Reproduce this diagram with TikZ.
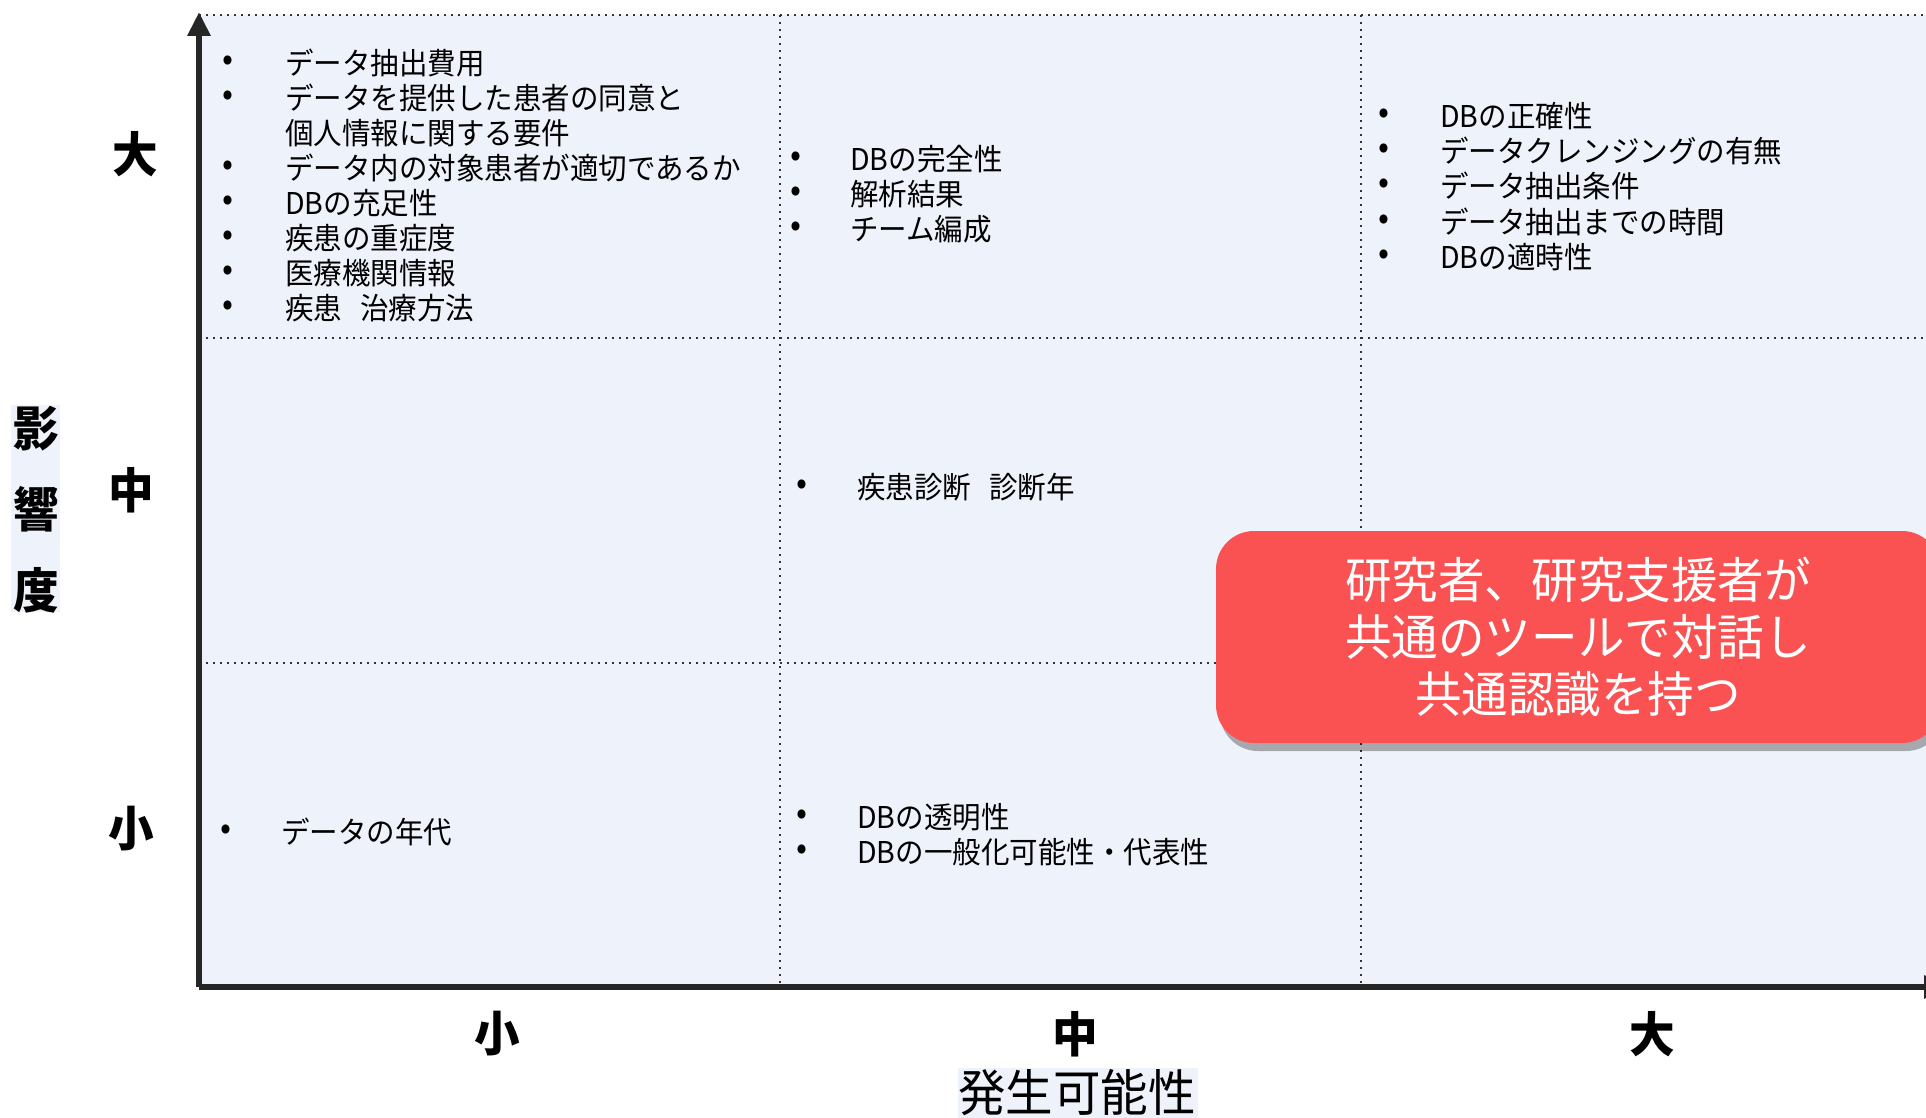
\documentclass[tikz,border=0pt]{standalone}
\usepackage{fontspec}
\setmainfont{Noto Sans CJK JP}[FakeStretch=0.95]
\usetikzlibrary{arrows.meta,shadows}
\definecolor{bgc}{HTML}{EEF2FA}
\definecolor{boxred}{HTML}{FA5252}
\definecolor{axisc}{HTML}{262626}
\definecolor{gridc}{HTML}{333333}
\begin{document}
\begin{tikzpicture}[x=1pt,y=-1pt,
  txt/.style={anchor=west,inner sep=0pt,font=\fontsize{30}{30}\selectfont},
  bul/.style={anchor=center,inner sep=0pt,font=\fontsize{34}{34}\selectfont},
  gridline/.style={draw=gridc,line width=2pt,dash pattern=on 2pt off 5pt},
  axisline/.style={draw=axisc,line width=6pt,-{Triangle[length=24pt,width=22pt]}},
  axlab/.style={inner sep=0pt,font=\fontsize{48}{48}\selectfont\bfseries},
  titlelab/.style={inner sep=0pt,font=\fontsize{50}{50}\selectfont},
  msgbox/.style={fill=boxred,rounded corners=38pt,text=white,align=center,
    inner sep=0pt,font=\fontsize{49}{57}\selectfont,
    drop shadow={shadow xshift=4pt,shadow yshift=-8pt,opacity=0.3,fill=black}}]
\clip (0,0) rectangle (1926,1118);
\fill[white] (0,0) rectangle (1926,1118);
% plot background
\fill[bgc] (199,15) rectangle (1926,987);
% grid
\coordinate (h0a) at (199,15);  \coordinate (h0b) at (1926,15);
\coordinate (h1a) at (199,338); \coordinate (h1b) at (1926,338);
\coordinate (h2a) at (199,663); \coordinate (h2b) at (1926,663);
\coordinate (v1a) at (780,15);  \coordinate (v1b) at (780,985);
\coordinate (v2a) at (1361,15); \coordinate (v2b) at (1361,985);
\draw[gridline] (h0a) -- (h0b);
\draw[gridline] (h1a) -- (h1b);
\draw[gridline] (h2a) -- (h2b);
\draw[gridline] (v1a) -- (v1b);
\draw[gridline] (v2a) -- (v2b);
% axes
\coordinate (O) at (199,987);
\coordinate (ytop) at (199,12);
\coordinate (xend) at (1948,987);
\draw[axisline] (O) -- (ytop);
\draw[axisline] (O) -- (xend);
% y-axis labels
\node[axlab] (yL) at (135,154) {大};
\node[axlab] (yM) at (131,490) {中};
\node[axlab] (yS) at (131,829) {小};
\fill[bgc] (11,405) rectangle (60,612);
\node[axlab] (yt1) at (36,429) {影};
\node[axlab] (yt2) at (36,509) {響};
\node[axlab] (yt3) at (36,590) {度};
% x-axis labels
\node[axlab] (xS) at (497,1034) {小};
\node[axlab] (xM) at (1075,1034) {中};
\node[axlab] (xL) at (1652,1034) {大};
\fill[bgc] (958,1068) rectangle (1198,1118);
\node[titlelab] (xt) at (1077,1093) {発生可能性};
% cell: small likelihood, large impact
\node[bul] (b11) at (228,63) {•};  \node[txt] (t11) at (285,63) {データ抽出費用};
\node[bul] (b12) at (228,98) {•};  \node[txt] (t12) at (285,98) {データを提供した患者の同意と};
                                   \node[txt] (t13) at (285,133) {個人情報に関する要件};
\node[bul] (b14) at (228,168) {•}; \node[txt] (t14) at (285,168) {データ内の対象患者が適切であるか};
\node[bul] (b15) at (228,203) {•}; \node[txt] (t15) at (285,203) {DBの充足性};
\node[bul] (b16) at (228,238) {•}; \node[txt] (t16) at (285,238) {疾患の重症度};
\node[bul] (b17) at (228,273) {•}; \node[txt] (t17) at (285,273) {医療機関情報};
\node[bul] (b18) at (228,308) {•}; \node[txt] (t18) at (285,308) {疾患\hspace{0.6em}治療方法};
% cell: medium likelihood, large impact
\node[bul] (b21) at (796,159) {•}; \node[txt] (t21) at (850,159) {DBの完全性};
\node[bul] (b22) at (796,194) {•}; \node[txt] (t22) at (850,194) {解析結果};
\node[bul] (b23) at (796,229) {•}; \node[txt] (t23) at (850,229) {チーム編成};
% cell: large likelihood, large impact
\node[bul] (b31) at (1384,116) {•}; \node[txt] (t31) at (1440,116) {DBの正確性};
\node[bul] (b32) at (1384,151) {•}; \node[txt] (t32) at (1440,151) {データクレンジングの有無};
\node[bul] (b33) at (1384,186) {•}; \node[txt] (t33) at (1440,186) {データ抽出条件};
\node[bul] (b34) at (1384,222) {•}; \node[txt] (t34) at (1440,222) {データ抽出までの時間};
\node[bul] (b35) at (1384,257) {•}; \node[txt] (t35) at (1440,257) {DBの適時性};
% cell: medium likelihood, medium impact
\node[bul] (b41) at (802,487) {•}; \node[txt] (t41) at (857,487) {疾患診断\hspace{0.6em}診断年};
% cell: small likelihood, small impact
\node[bul] (b51) at (226,832) {•}; \node[txt] (t51) at (281,832) {データの年代};
% cell: medium likelihood, small impact
\node[bul] (b61) at (802,817) {•}; \node[txt] (t61) at (857,817) {DBの透明性};
\node[bul] (b62) at (802,852) {•}; \node[txt] (t62) at (857,852) {DBの一般化可能性・代表性};
% message box
\node[msgbox,minimum width=724pt,minimum height=212pt] (msg) at (1578,637)
  {研究者、研究支援者が\\共通のツールで対話し\\共通認識を持つ};
\end{tikzpicture}
\end{document}
